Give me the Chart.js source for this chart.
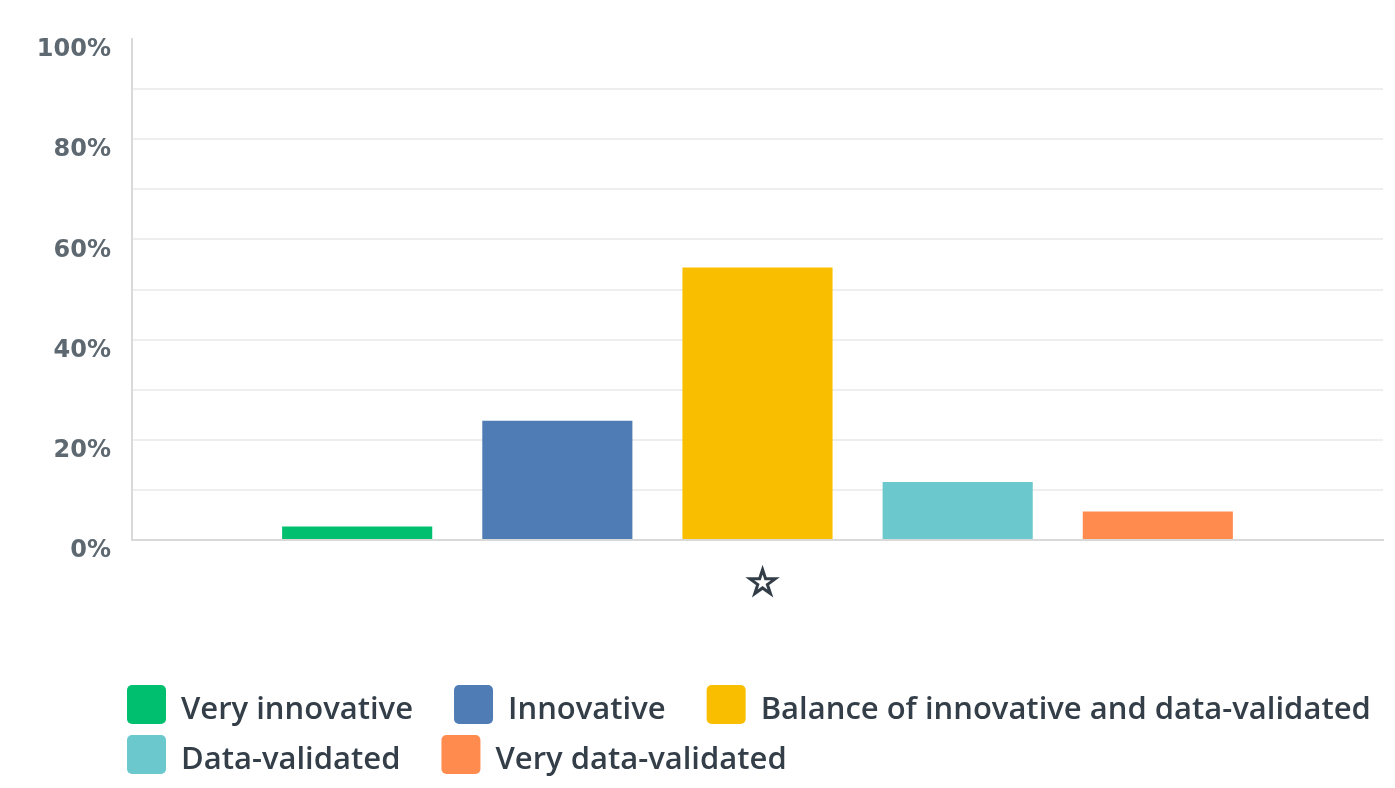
<!DOCTYPE html>
<html>
<head>
<meta charset="utf-8">
<title>Innovative vs data-validated</title>
<script src="https://cdn.jsdelivr.net/npm/chart.js@4"></script>
<style>
  html, body { margin: 0; padding: 0; background: #ffffff; }
  #wrap { width: 1395px; height: 788px; }
</style>
</head>
<body>
<div id="wrap"><canvas id="myChart" width="1395" height="788"></canvas></div>
<script>
// one question, five answer options
const categories = ['\u2606'];
const seriesNames = [
    'Very innovative',
    'Innovative',
    'Balance of innovative and data-validated',
    'Data-validated',
    'Very data-validated'
];
const seriesValues = [2.7, 23.8, 54.4, 11.6, 5.7];
const seriesColors = ['#00bf6f', '#507cb6', '#f9be00', '#6bc8cd', '#ff8b4f'];
const yTickLabels = [0, 20, 40, 60, 80, 100];

// legend drawn as flowing rows of rounded swatches under the plot
const swatchLegend = {
    id: 'swatchLegend',
    afterDraw(chart, args, opts) {
        const ctx = chart.ctx;
        ctx.save();
        ctx.font = opts.font;
        ctx.textBaseline = 'alphabetic';
        ctx.textAlign = 'left';
        let x = opts.left;
        let y = opts.top;
        chart.data.datasets.forEach(ds => {
            const textW = ctx.measureText(ds.label).width;
            const itemW = opts.box + opts.textGap + textW;
            if (x > opts.left && x + itemW > chart.width) {
                x = opts.left;
                y += opts.rowHeight;
            }
            ctx.fillStyle = ds.backgroundColor;
            ctx.beginPath();
            ctx.roundRect(x, y, opts.box, opts.box, opts.radius);
            ctx.fill();
            ctx.fillStyle = opts.color;
            ctx.fillText(ds.label, x + opts.box + opts.textGap, y + opts.baseline);
            x += itemW + opts.itemGap;
        });
        ctx.restore();
    }
};

const ctx = document.getElementById('myChart').getContext('2d');

const datasets = seriesNames.map((name, i) => ({
    label: name,
    data: [seriesValues[i]],
    backgroundColor: seriesColors[i],
    borderWidth: 0,
    categoryPercentage: 0.8,
    barPercentage: 0.75
}));

const chart = new Chart(ctx, {
    type: 'bar',
    data: {
        labels: categories,
        datasets: datasets
    },
    plugins: [swatchLegend],
    options: {
        responsive: false,
        animation: false,
        layout: {
            padding: { top: 39, right: 12, bottom: 0, left: 0 }
        },
        plugins: {
            legend: { display: false },
            tooltip: { enabled: false },
            swatchLegend: {
                left: 127,
                top: 685,
                box: 39,
                radius: 5,
                textGap: 15,
                itemGap: 41,
                rowHeight: 50,
                baseline: 34,
                font: '600 31px "Open Sans"',
                color: '#333e48'
            }
        },
        scales: {
            x: {
                grid: { display: false },
                border: { display: true, color: '#d9d9d9', width: 2 },
                ticks: {
                    color: '#333e48',
                    textStrokeColor: '#333e48',
                    textStrokeWidth: 2,
                    padding: 15,
                    labelOffset: 5,
                    font: { family: '"DejaVu Sans"', size: 37, weight: 'bold' }
                },
                afterFit(scale) { scale.height = 248; }
            },
            y: {
                min: 0,
                max: 100,
                border: { display: true, color: '#d9d9d9', width: 2 },
                grid: {
                    drawTicks: false,
                    lineWidth: 2,
                    color: c => (c.tick && (c.tick.value === 0 || c.tick.value === 100)) ? 'rgba(0,0,0,0)' : '#eeeeee'
                },
                ticks: {
                    stepSize: 10,
                    padding: 21,
                    labelOffset: 11,
                    color: '#5d6871',
                    font: { family: '"DejaVu Sans"', size: 24, weight: 'bold' },
                    callback: v => yTickLabels.includes(v) ? v + '%' : ''
                },
                afterFit(scale) { scale.width = 132; }
            }
        }
    }
});
</script>
</body>
</html>
